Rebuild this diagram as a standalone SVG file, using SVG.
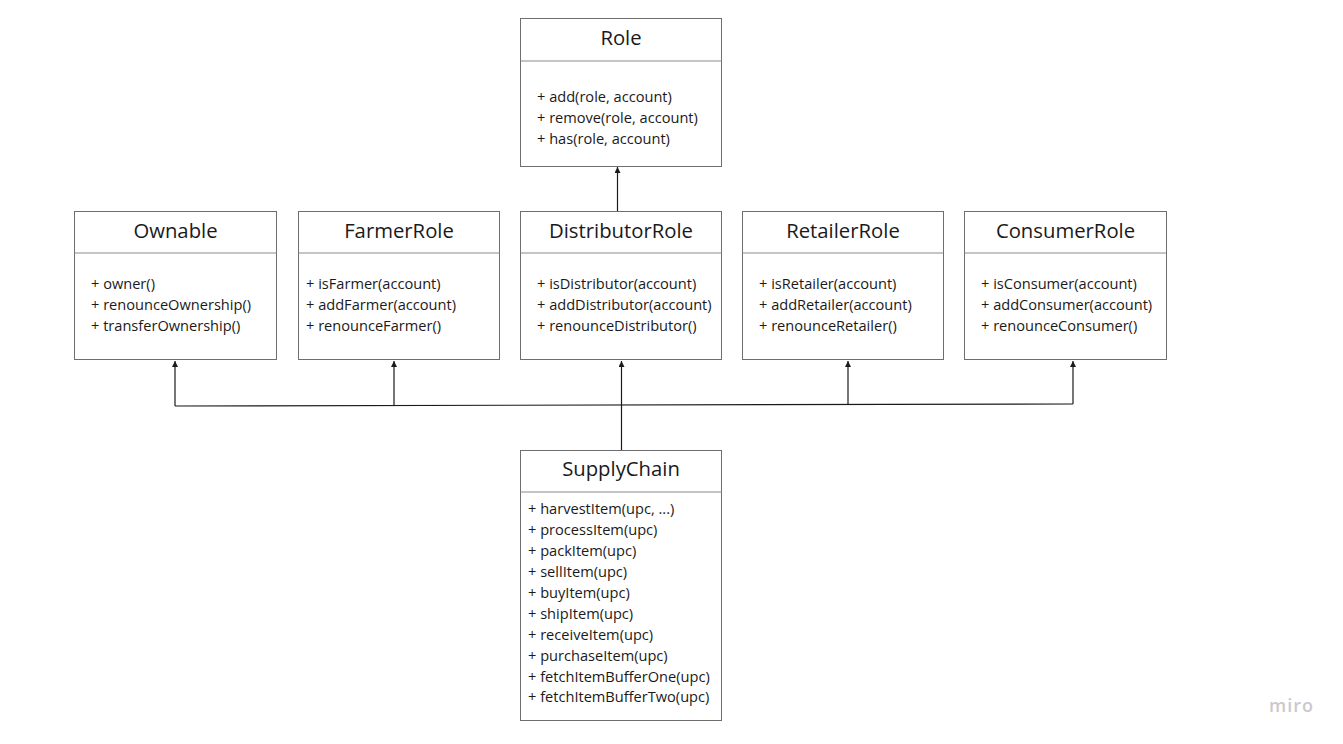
<svg xmlns="http://www.w3.org/2000/svg" width="1343" height="744" viewBox="0 0 1343 744">
  <style>
    .box { fill: #ffffff; stroke: #6e6e6e; stroke-width: 1; }
    .div { stroke: #8a8a8a; stroke-width: 1; }
    .title { font-family: "Open Sans", "DejaVu Sans", sans-serif; font-size: 20.3px; fill: #1a1a1a; text-anchor: middle; }
    .member { font-family: "Open Sans", "DejaVu Sans", sans-serif; font-size: 14.6px; fill: #1a1a1a; }
    .edge { fill: none; stroke: #1a1a1a; stroke-width: 1.2; }
    .logo { font-family: "Open Sans", "DejaVu Sans", sans-serif; font-size: 18px; font-weight: 600; fill: #c9c9cd; letter-spacing: 1px; }
  </style>
  <defs>
    <!-- small upward-pointing head, tip sits on the line end -->
    <marker id="arrow" viewBox="0 0 8 8" refX="4" refY="0" markerWidth="6" markerHeight="6" markerUnits="userSpaceOnUse" orient="0">
      <path d="M0,8 L4,0 L8,8 Z" fill="#1a1a1a"/>
    </marker>
  </defs>

  <rect width="1343" height="744" fill="#ffffff"/>

  <!-- connectors -->
  <g id="connectors">
    <path class="edge" d="M617.5,211 L617.5,167" marker-end="url(#arrow)"/>
    <path class="edge" d="M175,406 L1073,404"/>
    <path class="edge" d="M175,406 L175,361" marker-end="url(#arrow)"/>
    <path class="edge" d="M394,405.5 L394,361" marker-end="url(#arrow)"/>
    <path class="edge" d="M621.5,450 L621.5,361" marker-end="url(#arrow)"/>
    <path class="edge" d="M848,404.5 L848,361" marker-end="url(#arrow)"/>
    <path class="edge" d="M1073,404 L1073,361" marker-end="url(#arrow)"/>
  </g>

  <!-- Role -->
  <g id="role">
    <rect class="box" x="520.5" y="18.5" width="201" height="148"/>
    <line class="div" x1="520.5" y1="61" x2="721.5" y2="61"/>
    <text class="title" x="621" y="45">Role</text>
    <text class="member" x="537" y="102">+ add(role, account)</text>
    <text class="member" x="537" y="123">+ remove(role, account)</text>
    <text class="member" x="537" y="144">+ has(role, account)</text>
  </g>

  <!-- Ownable -->
  <g id="ownable">
    <rect class="box" x="74.5" y="211.5" width="202" height="148"/>
    <line class="div" x1="74.5" y1="253" x2="276.5" y2="253"/>
    <text class="title" x="175.5" y="238">Ownable</text>
    <text class="member" x="91" y="289">+ owner()</text>
    <text class="member" x="91" y="310">+ renounceOwnership()</text>
    <text class="member" x="91" y="331">+ transferOwnership()</text>
  </g>

  <!-- FarmerRole -->
  <g id="farmer-role">
    <rect class="box" x="298.5" y="211.5" width="201" height="148"/>
    <line class="div" x1="298.5" y1="253" x2="499.5" y2="253"/>
    <text class="title" x="399" y="238">FarmerRole</text>
    <text class="member" x="306" y="289">+ isFarmer(account)</text>
    <text class="member" x="306" y="310">+ addFarmer(account)</text>
    <text class="member" x="306" y="331">+ renounceFarmer()</text>
  </g>

  <!-- DistributorRole -->
  <g id="distributor-role">
    <rect class="box" x="520.5" y="211.5" width="201" height="148"/>
    <line class="div" x1="520.5" y1="253" x2="721.5" y2="253"/>
    <text class="title" x="621" y="238">DistributorRole</text>
    <text class="member" x="537" y="289">+ isDistributor(account)</text>
    <text class="member" x="537" y="310">+ addDistributor(account)</text>
    <text class="member" x="537" y="331">+ renounceDistributor()</text>
  </g>

  <!-- RetailerRole -->
  <g id="retailer-role">
    <rect class="box" x="742.5" y="211.5" width="201" height="148"/>
    <line class="div" x1="742.5" y1="253" x2="943.5" y2="253"/>
    <text class="title" x="843" y="238">RetailerRole</text>
    <text class="member" x="759" y="289">+ isRetailer(account)</text>
    <text class="member" x="759" y="310">+ addRetailer(account)</text>
    <text class="member" x="759" y="331">+ renounceRetailer()</text>
  </g>

  <!-- ConsumerRole -->
  <g id="consumer-role">
    <rect class="box" x="964.5" y="211.5" width="202" height="148"/>
    <line class="div" x1="964.5" y1="253" x2="1166.5" y2="253"/>
    <text class="title" x="1065.5" y="238">ConsumerRole</text>
    <text class="member" x="981" y="289">+ isConsumer(account)</text>
    <text class="member" x="981" y="310">+ addConsumer(account)</text>
    <text class="member" x="981" y="331">+ renounceConsumer()</text>
  </g>

  <!-- SupplyChain -->
  <g id="supply-chain">
    <rect class="box" x="520.5" y="450.5" width="201" height="270"/>
    <line class="div" x1="520.5" y1="492" x2="721.5" y2="492"/>
    <text class="title" x="621" y="476">SupplyChain</text>
    <text class="member" x="528" y="514">+ harvestItem(upc, ...)</text>
    <text class="member" x="528" y="535">+ processItem(upc)</text>
    <text class="member" x="528" y="556">+ packItem(upc)</text>
    <text class="member" x="528" y="577">+ sellItem(upc)</text>
    <text class="member" x="528" y="598">+ buyItem(upc)</text>
    <text class="member" x="528" y="618.5">+ shipItem(upc)</text>
    <text class="member" x="528" y="639.5">+ receiveItem(upc)</text>
    <text class="member" x="528" y="660.5">+ purchaseItem(upc)</text>
    <text class="member" x="528" y="681.5">+ fetchItemBufferOne(upc)</text>
    <text class="member" x="528" y="702">+ fetchItemBufferTwo(upc)</text>
  </g>

  <text class="logo" x="1269" y="712">miro</text>
</svg>
